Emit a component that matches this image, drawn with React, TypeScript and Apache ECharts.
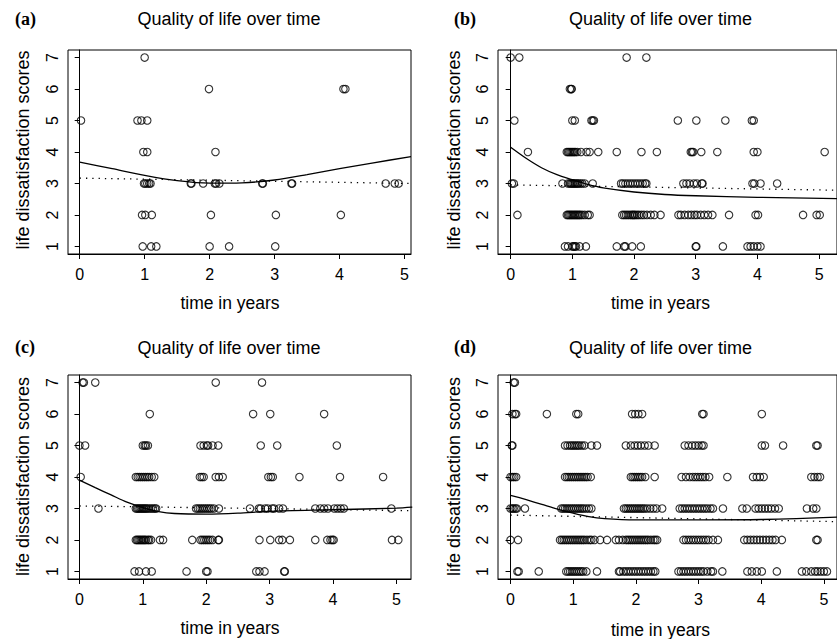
import React, { useEffect, useRef } from "react";
import * as echarts from "echarts";

// ---------- data ----------
const X_TICKS = [0, 1, 2, 3, 4, 5];
const Y_TICKS = [1, 2, 3, 4, 5, 6, 7];
const SCORES = [1, 2, 3, 4, 5, 6, 7];

const PANEL_LABELS = ["(a)", "(b)", "(c)", "(d)"];
const TITLE = "Quality of life over time";
const X_NAME = "time in years";
const Y_NAME = "life dissatisfaction scores";

// times (years) of observations, one list per score 1..7
const TIMES_A: number[][] = [
  [0.97, 1.1, 1.18, 2.0, 2.3, 3.01],
  [0.96, 1.01, 1.11, 2.02, 3.02, 4.02],
  [0.99, 1.01, 1.04, 1.07, 1.09, 1.71, 1.72, 1.9, 2.08, 2.1, 2.15, 2.81, 2.82, 3.26, 3.27, 4.71, 4.85, 4.91],
  [0.98, 1.04, 2.09],
  [0.02, 0.89, 0.95, 1.04],
  [1.99, 4.06, 4.09],
  [1.0],
];

const TIMES_B: number[][] = [
  [0.88, 0.93, 1.0, 1.02, 1.04, 1.06, 1.12, 1.22, 1.72, 1.84, 1.86, 1.97, 2.11, 3.0, 3.01, 3.44, 3.84, 3.89, 3.94, 4.0, 4.05],
  [0.11, 0.91, 0.93, 0.95, 0.97, 0.99, 1.01, 1.03, 1.05, 1.07, 1.09, 1.11, 1.13, 1.16, 1.2, 1.25, 1.28,
    1.81, 1.84, 1.87, 1.9, 1.93, 1.96, 1.98, 2.0, 2.02, 2.05, 2.08, 2.12, 2.16, 2.21, 2.27, 2.33, 2.43,
    2.72, 2.76, 2.82, 2.88, 2.93, 2.98, 3.02, 3.08, 3.14, 3.2, 3.27, 3.54, 3.97, 4.01, 4.74, 4.96, 5.01],
  [0.02, 0.05, 0.84, 0.93, 0.96, 0.98, 1.0, 1.02, 1.04, 1.06, 1.08, 1.1, 1.13, 1.16, 1.2, 1.33,
    1.79, 1.82, 1.86, 1.9, 1.94, 1.98, 2.02, 2.06, 2.1, 2.14, 2.18, 2.2,
    2.8, 2.85, 2.9, 2.97, 3.02, 3.1, 3.11, 3.92, 3.95, 4.05, 4.32],
  [0.28, 0.91, 0.93, 0.95, 0.97, 0.99, 1.01, 1.03, 1.05, 1.08, 1.14, 1.23, 1.28, 1.42, 1.72, 2.12, 2.37,
    2.92, 2.94, 2.96, 3.09, 3.35, 3.94, 4.0, 5.09],
  [0.06, 1.0, 1.04, 1.31, 1.33, 1.35, 2.71, 3.01, 3.48, 3.91, 3.94],
  [0.96, 0.98, 0.99],
  [0.0, 0.14, 1.88, 2.2],
];

const TIMES_C: number[][] = [
  [0.87, 0.94, 1.05, 1.14, 1.69, 2.0, 2.02, 2.79, 2.84, 2.92, 3.23, 3.24],
  [0.89, 0.91, 0.93, 0.95, 0.97, 0.99, 1.01, 1.03, 1.05, 1.08, 1.1, 1.13, 1.27, 1.32, 1.78,
    1.91, 1.94, 1.97, 2.0, 2.03, 2.06, 2.1, 2.19, 2.2, 2.84, 3.01, 3.15, 3.2, 3.32, 3.72,
    3.91, 3.96, 3.99, 4.01, 4.93, 5.03],
  [0.3, 0.89, 0.91, 0.93, 0.95, 0.97, 0.99, 1.01, 1.03, 1.05, 1.07, 1.1, 1.13, 1.16, 1.19, 1.21,
    1.84, 1.87, 1.9, 1.93, 1.96, 1.99, 2.02, 2.05, 2.08, 2.12, 2.2, 2.69,
    2.83, 2.86, 2.93, 2.97, 3.04, 3.07, 3.15, 3.21, 3.72, 3.8, 3.86, 3.92, 4.02, 4.07, 4.12, 4.17, 4.92],
  [0.02, 0.89, 0.92, 0.95, 0.98, 1.01, 1.04, 1.07, 1.1, 1.14, 1.18, 1.9, 1.93, 1.96, 2.15, 2.2, 2.26,
    2.98, 3.02, 3.05, 3.47, 4.11, 4.79],
  [0.0, 0.09, 1.0, 1.03, 1.05, 1.08, 1.91, 1.96, 2.01, 2.03, 2.1, 2.19, 2.86, 3.12, 4.06],
  [1.11, 2.74, 3.01, 3.86],
  [0.05, 0.07, 0.25, 2.15, 2.88],
];

const TIMES_D: number[][] = [
  [0.11, 0.13, 0.45, 0.89, 0.92, 0.95, 0.98, 1.01, 1.04, 1.07, 1.1, 1.13, 1.16, 1.21, 1.38,
    1.73, 1.75, 1.8, 1.84, 1.88, 1.92, 1.96, 2.0, 2.04, 2.08, 2.12, 2.16, 2.2, 2.24, 2.28, 2.31,
    2.68, 2.72, 2.76, 2.8, 2.84, 2.88, 2.92, 2.96, 3.0, 3.04, 3.08, 3.14, 3.2, 3.23, 3.38,
    3.78, 3.85, 3.93, 4.01, 4.25, 4.65, 4.72, 4.8, 4.86, 4.9, 4.95, 5.0, 5.05],
  [0.0, 0.12, 0.79, 0.82, 0.85, 0.88, 0.91, 0.94, 0.97, 1.0, 1.03, 1.06, 1.09, 1.12, 1.15, 1.18, 1.22,
    1.26, 1.29, 1.34, 1.43, 1.54, 1.68, 1.73, 1.79, 1.84, 1.87, 1.9, 1.93, 1.96, 1.99, 2.02, 2.05,
    2.08, 2.11, 2.14, 2.17, 2.2, 2.24, 2.28, 2.31, 2.34, 2.76, 2.8, 2.84, 2.88, 2.92, 2.96, 3.0,
    3.04, 3.08, 3.12, 3.16, 3.23, 3.31, 3.73, 3.78, 3.83, 3.88, 3.93, 3.98, 4.03, 4.08, 4.13,
    4.18, 4.23, 4.33, 4.88, 4.9],
  [0.0, 0.03, 0.05, 0.08, 0.1, 0.23, 0.81, 0.84, 0.87, 0.9, 0.93, 0.96, 0.99, 1.02, 1.05, 1.08,
    1.11, 1.14, 1.17, 1.21, 1.25, 1.29, 1.81, 1.84, 1.87, 1.9, 1.93, 1.96, 1.99, 2.02, 2.05, 2.08,
    2.11, 2.14, 2.18, 2.23, 2.28, 2.33, 2.42, 2.7, 2.74, 2.78, 2.82, 2.86, 2.9, 2.94, 2.98, 3.02,
    3.06, 3.1, 3.14, 3.19, 3.23, 3.39, 3.7, 3.77, 3.91, 3.96, 4.01, 4.06, 4.11, 4.16, 4.22, 4.28,
    4.73, 4.83, 4.88],
  [0.0, 0.03, 0.06, 0.09, 0.87, 0.9, 0.93, 0.96, 0.99, 1.02, 1.05, 1.08, 1.11, 1.14, 1.17, 1.2,
    1.23, 1.28, 1.92, 1.95, 1.98, 2.01, 2.04, 2.07, 2.1, 2.15, 2.3, 2.73, 2.8, 2.86, 2.91, 2.95,
    2.99, 3.03, 3.07, 3.11, 3.17, 3.46, 3.87, 3.93, 3.98, 4.04, 4.8, 4.85, 4.9, 4.94],
  [0.02, 0.03, 0.87, 0.91, 0.95, 0.98, 1.01, 1.04, 1.07, 1.1, 1.14, 1.18, 1.29, 1.38, 1.84, 1.92,
    1.98, 2.03, 2.08, 2.14, 2.2, 2.3, 2.78, 2.84, 2.9, 2.95, 3.0, 3.05, 3.08, 4.01, 4.06, 4.35, 4.88, 4.9],
  [0.03, 0.07, 0.09, 0.58, 1.05, 1.08, 1.94, 1.99, 2.04, 2.1, 3.06, 3.08, 4.01],
  [0.05, 0.07],
];

// smoothed trend (solid)
const SMOOTH_X_A = [0, 0.5, 1, 1.5, 2, 2.5, 3, 3.5, 4, 4.5, 5.1];
const SMOOTH_Y_A = [3.68, 3.47, 3.26, 3.09, 3.01, 3.02, 3.11, 3.28, 3.47, 3.65, 3.85];
const SMOOTH_X_B = [0, 0.25, 0.5, 0.75, 1, 1.25, 1.5, 2, 2.5, 3, 4, 5.3];
const SMOOTH_Y_B = [4.15, 3.8, 3.5, 3.28, 3.12, 2.97, 2.86, 2.73, 2.65, 2.61, 2.56, 2.52];
const SMOOTH_X_C = [0, 0.25, 0.5, 0.75, 1, 1.25, 1.5, 2, 2.5, 3, 4, 5, 5.25];
const SMOOTH_Y_C = [3.9, 3.66, 3.43, 3.2, 3.03, 2.9, 2.84, 2.82, 2.85, 2.91, 2.96, 3.01, 3.04];
const SMOOTH_X_D = [0, 0.25, 0.5, 0.75, 1, 1.25, 1.5, 2, 3, 4, 5.25];
const SMOOTH_Y_D = [3.42, 3.28, 3.13, 2.98, 2.85, 2.74, 2.68, 2.64, 2.64, 2.65, 2.73];

// linear fit (dotted): [start x, end x], [start y, end y]
const LINEAR_X_A = [0, 5.1];
const LINEAR_Y_A = [3.17, 3.0];
const LINEAR_X_B = [0, 5.3];
const LINEAR_Y_B = [2.955, 2.785];
const LINEAR_X_C = [0, 5.25];
const LINEAR_Y_C = [3.08, 2.93];
const LINEAR_X_D = [0, 5.25];
const LINEAR_Y_D = [2.79, 2.58];

const TIMES = [TIMES_A, TIMES_B, TIMES_C, TIMES_D];
const SMOOTH_X = [SMOOTH_X_A, SMOOTH_X_B, SMOOTH_X_C, SMOOTH_X_D];
const SMOOTH_Y = [SMOOTH_Y_A, SMOOTH_Y_B, SMOOTH_Y_C, SMOOTH_Y_D];
const LINEAR_X = [LINEAR_X_A, LINEAR_X_B, LINEAR_X_C, LINEAR_X_D];
const LINEAR_Y = [LINEAR_Y_A, LINEAR_Y_B, LINEAR_Y_C, LINEAR_Y_D];

// ---------- layout ----------
const LAYOUT = [
  { left: 68, top: 50, xMin: -0.18, xMax: 5.1, labelX: 15, labelY: 18.5, titleX: 229, titleY: 18.5, yNameX: 23, yNameY: 150, xNameX: 230, xNameY: 303 },
  { left: 498, top: 50, xMin: -0.205, xMax: 5.29, labelX: 454, labelY: 18.5, titleX: 660.5, titleY: 18.5, yNameX: 453.5, yNameY: 150, xNameX: 660.5, xNameY: 303 },
  { left: 68, top: 375, xMin: -0.18, xMax: 5.23, labelX: 15, labelY: 347, titleX: 229, titleY: 347.5, yNameX: 23, yNameY: 476.5, xNameX: 230, xNameY: 627.5 },
  { left: 498, top: 375, xMin: -0.2, xMax: 5.21, labelX: 454, labelY: 347, titleX: 660.5, titleY: 347.5, yNameX: 453.5, yNameY: 476.5, xNameX: 660.5, xNameY: 629.5 },
];
const GRID_W = 343;
const GRID_H = 204;
const Y_MIN = 0.76;
const Y_MAX = 7.24;

const SANS = "'Liberation Sans', Arial, Helvetica, sans-serif";
const SERIF = "'Liberation Serif', 'Times New Roman', serif";

export default function App() {
  const ref = useRef<HTMLDivElement>(null);

  useEffect(() => {
    if (!ref.current) return;
    const chart = echarts.init(ref.current, undefined, { renderer: "svg" });

    const grids: any[] = [];
    const xAxes: any[] = [];
    const yAxes: any[] = [];
    const series: any[] = [];
    const graphics: any[] = [];

    LAYOUT.forEach((L, i) => {
      grids.push({
        left: L.left,
        top: L.top,
        width: GRID_W,
        height: GRID_H,
        show: true,
        borderColor: "#000",
        borderWidth: 1,
        backgroundColor: "transparent",
        containLabel: false,
      });
      xAxes.push({
        type: "value",
        gridIndex: i,
        min: L.xMin,
        max: L.xMax,
        axisLine: { show: true, lineStyle: { color: "#000", width: 1 } },
        splitLine: { show: false },
        axisTick: { show: true, customValues: X_TICKS, length: 5, inside: false, lineStyle: { color: "#000", width: 1 } },
        axisLabel: { customValues: X_TICKS, margin: 12, fontSize: 16, color: "#000", fontFamily: SANS },
      });
      yAxes.push({
        type: "value",
        gridIndex: i,
        min: Y_MIN,
        max: Y_MAX,
        axisLine: { show: true, lineStyle: { color: "#000", width: 1 } },
        splitLine: { show: false },
        axisTick: { show: true, customValues: Y_TICKS, length: 5, inside: false, lineStyle: { color: "#000", width: 1 } },
        axisLabel: { customValues: Y_TICKS, rotate: 90, margin: 8, fontSize: 16, color: "#000", fontFamily: SANS },
      });

      const pts: number[][] = [];
      TIMES[i].forEach((list, k) => {
        list.forEach((t) => pts.push([t, SCORES[k]]));
      });
      series.push({
        type: "scatter",
        xAxisIndex: i,
        yAxisIndex: i,
        data: pts,
        symbol: "circle",
        symbolSize: 7.5,
        silent: true,
        itemStyle: { color: "rgba(0,0,0,0)", borderColor: "#000", borderWidth: 1.1 },
      });
      series.push({
        type: "line",
        xAxisIndex: i,
        yAxisIndex: i,
        data: SMOOTH_X[i].map((x, j) => [x, SMOOTH_Y[i][j]]),
        smooth: 0.3,
        showSymbol: false,
        symbol: "none",
        silent: true,
        lineStyle: { color: "#000", width: 1.3 },
      });
      series.push({
        type: "line",
        xAxisIndex: i,
        yAxisIndex: i,
        data: LINEAR_X[i].map((x, j) => [x, LINEAR_Y[i][j]]),
        showSymbol: false,
        symbol: "none",
        silent: true,
        lineStyle: { color: "#000", width: 1.3, type: [1.3, 5] },
      });

      graphics.push({
        type: "text",
        x: L.labelX,
        y: L.labelY,
        style: { text: PANEL_LABELS[i], font: `bold 18px ${SERIF}`, fill: "#000", textAlign: "left", textVerticalAlign: "middle" },
      });
      graphics.push({
        type: "text",
        x: L.titleX,
        y: L.titleY,
        style: { text: TITLE, font: `18px ${SANS}`, fill: "#000", textAlign: "center", textVerticalAlign: "middle" },
      });
      graphics.push({
        type: "text",
        x: L.xNameX,
        y: L.xNameY,
        style: { text: X_NAME, font: `17.5px ${SANS}`, fill: "#000", textAlign: "center", textVerticalAlign: "middle" },
      });
      graphics.push({
        type: "text",
        x: L.yNameX,
        y: L.yNameY,
        rotation: Math.PI / 2,
        style: { text: Y_NAME, font: `18px ${SANS}`, fill: "#000", textAlign: "center", textVerticalAlign: "middle" },
      });
    });

    chart.setOption({
      animation: false,
      backgroundColor: "#fff",
      grid: grids,
      xAxis: xAxes,
      yAxis: yAxes,
      series,
      graphic: graphics,
    });

    return () => chart.dispose();
  }, []);

  return (
    <div
      ref={ref}
      style={{ position: "absolute", left: 0, top: 0, width: 837, height: 639, background: "#fff" }}
    />
  );
}
